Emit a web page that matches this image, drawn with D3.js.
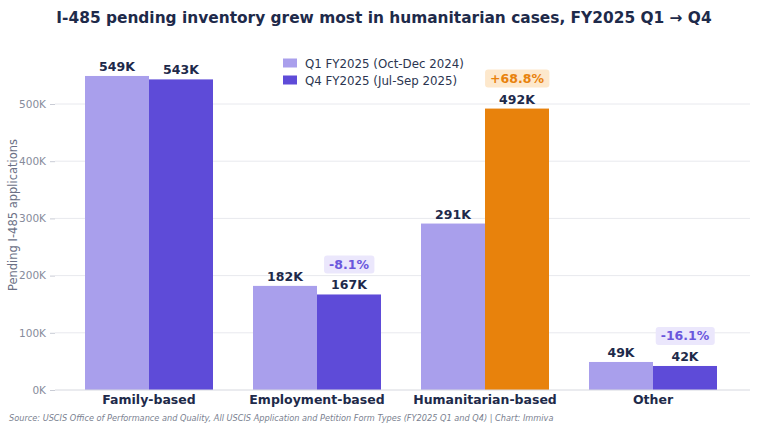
<!DOCTYPE html>
<html>
<head>
<meta charset="utf-8">
<script src="https://cdn.jsdelivr.net/npm/d3@7"></script>
<style>
  body { margin: 0; background: #fff; }
  svg { font-family: "DejaVu Sans", sans-serif; display: block; }
</style>
</head>
<body>
<svg id="chart" width="760" height="428"></svg>
<script>
// categories and series
var categories = ["Family-based", "Employment-based", "Humanitarian-based", "Other"];
var q1Values = [549, 182, 291, 49];   // thousands
var q4Values = [543, 167, 492, 42];
var changeLabels = [null, "-8.1%", "+68.8%", "-16.1%"];
var seriesNames = ["Q1 FY2025 (Oct-Dec 2024)", "Q4 FY2025 (Jul-Sep 2025)"];
var yTicks = [0, 100, 200, 300, 400, 500];

var svg = d3.select("#chart");

var x = d3.scaleBand().domain(categories).range([65, 737]).padding(0);
var xs = d3.scaleBand().domain([0, 1]).range([-64, 64]).padding(0);
var y = d3.scaleLinear().domain([0, 500]).range([390, 104]);

var colQ1 = "#a99fec", colQ4 = "#5e4bd8", colHum = "#e8820c";
var navy = "#1e2a4a";

// title
svg.append("text")
  .attr("x", 384).attr("y", 23)
  .attr("text-anchor", "middle")
  .attr("font-size", 15.4).attr("font-weight", "bold")
  .attr("fill", navy)
  .text("I-485 pending inventory grew most in humanitarian cases, FY2025 Q1 \u2192 Q4");

// gridlines
svg.append("g").selectAll("line")
  .data(yTicks.filter(function (d) { return d > 0; }))
  .enter().append("line")
  .attr("x1", 55).attr("x2", 750)
  .attr("y1", function (d) { return y(d); })
  .attr("y2", function (d) { return y(d); })
  .attr("stroke", "#e8e9ee").attr("stroke-width", 1);

// y axis
var yAxis = svg.append("g")
  .attr("transform", "translate(55,0)")
  .call(d3.axisLeft(y).tickValues(yTicks).tickSize(5).tickPadding(4)
    .tickFormat(function (d) { return d + "K"; }));
yAxis.select(".domain").remove();
yAxis.selectAll("line").attr("stroke", "#c9ccd5");
yAxis.selectAll("text").attr("fill", "#868b9b").attr("font-size", 10.5)
  .attr("font-family", "DejaVu Sans, sans-serif");

svg.append("text")
  .attr("transform", "translate(17,215) rotate(-90)")
  .attr("text-anchor", "middle")
  .attr("font-size", 11.5).attr("fill", "#6b7085")
  .text("Pending I-485 applications");

// bars
var groups = svg.append("g").selectAll("g")
  .data(categories)
  .enter().append("g")
  .attr("transform", function (d) { return "translate(" + (x(d) + x.bandwidth() / 2) + ",0)"; });

groups.each(function (cat, i) {
  var g = d3.select(this);
  var vals = [q1Values[i], q4Values[i]];
  vals.forEach(function (v, s) {
    var fill = s === 0 ? colQ1 : (cat === "Humanitarian-based" ? colHum : colQ4);
    g.append("rect")
      .attr("x", xs(s)).attr("width", xs.bandwidth())
      .attr("y", y(v)).attr("height", y(0) - y(v))
      .attr("fill", fill);
    g.append("text")
      .attr("x", xs(s) + xs.bandwidth() / 2)
      .attr("y", y(v) - 5)
      .attr("text-anchor", "middle")
      .attr("font-size", 12.5).attr("font-weight", "bold")
      .attr("fill", navy)
      .text(v + "K");
  });
  if (changeLabels[i]) {
    var up = changeLabels[i][0] === "+";
    var cx = xs(1) + xs.bandwidth() / 2;
    var cy = y(vals[1]) - 30;
    var badge = g.append("g");
    var t = badge.append("text")
      .attr("x", cx).attr("y", cy + 4.5)
      .attr("text-anchor", "middle")
      .attr("font-size", 12.5).attr("font-weight", "bold")
      .attr("fill", up ? colHum : "#6a56dc")
      .text(changeLabels[i]);
    var bb = t.node().getBBox();
    badge.insert("rect", "text")
      .attr("x", bb.x - 5).attr("y", cy - 9)
      .attr("width", bb.width + 10).attr("height", 18)
      .attr("rx", 3)
      .attr("fill", up ? "#fde8cc" : "#ebe7fc");
  }
});

// baseline
svg.append("line")
  .attr("x1", 55).attr("x2", 750).attr("y1", 390).attr("y2", 390)
  .attr("stroke", "#d6d8df");

// x axis labels
var xAxis = svg.append("g")
  .attr("transform", "translate(0,390)")
  .call(d3.axisBottom(x).tickSize(0).tickPadding(5));
xAxis.select(".domain").remove();
xAxis.selectAll("text").attr("fill", navy).attr("font-size", 12.5)
  .attr("font-weight", "bold").attr("font-family", "DejaVu Sans, sans-serif");

// legend
var legend = svg.append("g").attr("transform", "translate(283,63)");
seriesNames.forEach(function (name, i) {
  legend.append("rect")
    .attr("x", 0).attr("y", i * 17 - 4.5)
    .attr("width", 14).attr("height", 9)
    .attr("fill", i === 0 ? colQ1 : colQ4);
  legend.append("text")
    .attr("x", 22).attr("y", i * 17 + 4.5)
    .attr("font-size", 11.8).attr("fill", "#2b3550")
    .text(name);
});

// source
svg.append("text")
  .attr("x", 9).attr("y", 421)
  .attr("font-size", 8.2).attr("font-style", "italic")
  .attr("fill", "#7a7f90")
  .text("Source: USCIS Office of Performance and Quality, All USCIS Application and Petition Form Types (FY2025 Q1 and Q4)  |  Chart: Immiva");
</script>
</body>
</html>
